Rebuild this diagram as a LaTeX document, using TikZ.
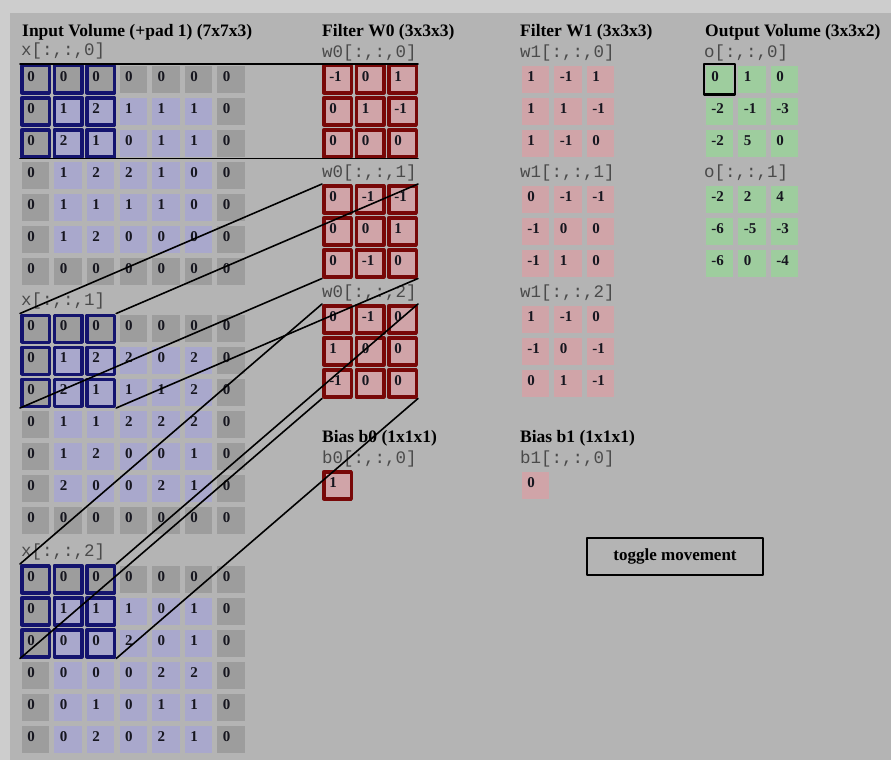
\documentclass[tikz,border=0pt]{standalone}
\usepackage{fontspec}
\setmainfont{Liberation Serif}
\setmonofont{Liberation Mono}
\usetikzlibrary{calc}

\definecolor{stripgray}{HTML}{CDCDCD}
\definecolor{panelgray}{HTML}{B4B4B4}
\definecolor{padgray}{HTML}{9D9D9D}
\definecolor{volblue}{HTML}{A9A8CC}
\definecolor{winblue}{HTML}{14146E}
\definecolor{filtpink}{HTML}{D0A4A8}
\definecolor{filtred}{HTML}{780808}
\definecolor{outgreen}{HTML}{9ECD9E}
\definecolor{labgray}{HTML}{4A4A4A}
\definecolor{celltext}{HTML}{16161F}

% one padded input slice: #1 depth, #2 top (px), #3 rows
\newcommand{\inslice}[3]{%
  \node[sublabel] (xlab#1) at (21,#2-8) {x[:,:,#1]};
  \foreach \row [count=\ri from 0] in {#3}{
    \foreach \val [count=\ci from 0] in \row{
      \pgfmathtruncatemacro\ispad{(\ri==0)||(\ri==6)||(\ci==0)||(\ci==6)}
      \pgfmathtruncatemacro\inwin{(\ri<3)&&(\ci<3)}
      \ifnum\ispad=1 \def\cfill{padgray}\else\def\cfill{volblue}\fi
      \ifnum\inwin=1 \def\cedge{winblue}\else\def\cedge{none}\fi
      \node[cell,fill=\cfill,draw=\cedge] (x#1-\ri-\ci) at (20+32.6*\ci,#2+32*\ri) {\val};
    }
  }
}

% one 3x3 slice: #1 name, #2 depth, #3 left, #4 top, #5 fill, #6 edge, #7 rows
\newcommand{\smallslice}[7]{%
  \node[sublabel] (#1lab#2) at (#3,#4-7) {#1[:,:,#2]};
  \foreach \row [count=\ri from 0] in {#7}{
    \foreach \val [count=\ci from 0] in \row{
      \node[cell,fill=#5,draw=#6] (#1-#2-\ri-\ci) at (#3+32.5*\ci,#4+32*\ri) {\val};
    }
  }
}

\begin{document}
\begin{tikzpicture}[x=1pt,y=-1pt,line cap=round,line join=round,
    cell/.style={anchor=north west,inner xsep=5.5pt,inner ysep=0pt,text width=16.5pt,
      text height=15.5pt,text depth=11.5pt,align=left,line width=3.5pt,text=celltext,
      font=\fontsize{15}{15}\selectfont\bfseries},
    heading/.style={anchor=base west,inner sep=0pt,font=\fontsize{17.5}{20}\selectfont\bfseries},
    sublabel/.style={anchor=base west,inner sep=0pt,text=labgray,font=\fontsize{17.5}{20}\selectfont\ttfamily},
    link/.style={black,line width=1.6pt}]
  \useasboundingbox (0,0) rectangle (891,760);
  \fill[stripgray] (0,0) rectangle (891,760);
  \fill[panelgray] (10,13) rectangle (891,760);

  % --- column headings ---
  \node[heading] (intitle) at (22,37) {Input Volume (+pad 1) (7x7x3)};
  \node[heading] (w0title) at (322,37) {Filter W0 (3x3x3)};
  \node[heading] (w1title) at (520,37) {Filter W1 (3x3x3)};
  \node[heading] (otitle) at (705,37) {Output Volume (3x3x2)};

  % --- input volume, three depth slices ---
  \inslice{0}{64}{{0,0,0,0,0,0,0},{0,1,2,1,1,1,0},{0,2,1,0,1,1,0},{0,1,2,2,1,0,0},
    {0,1,1,1,1,0,0},{0,1,2,0,0,0,0},{0,0,0,0,0,0,0}}
  \inslice{1}{313.5}{{0,0,0,0,0,0,0},{0,1,2,2,0,2,0},{0,2,1,1,1,2,0},{0,1,1,2,2,2,0},
    {0,1,2,0,0,1,0},{0,2,0,0,2,1,0},{0,0,0,0,0,0,0}}
  \inslice{2}{564}{{0,0,0,0,0,0,0},{0,1,1,1,0,1,0},{0,0,0,2,0,1,0},{0,0,0,0,2,2,0},
    {0,0,1,0,1,1,0},{0,0,2,0,2,1,0}}

  % --- filter W0 (active) ---
  \smallslice{w0}{0}{322}{64}{filtpink}{filtred}{{-1,0,1},{0,1,-1},{0,0,0}}
  \smallslice{w0}{1}{322}{184}{filtpink}{filtred}{{0,-1,-1},{0,0,1},{0,-1,0}}
  \smallslice{w0}{2}{322}{304}{filtpink}{filtred}{{0,-1,0},{1,0,0},{-1,0,0}}

  % --- filter W1 ---
  \smallslice{w1}{0}{520}{64}{filtpink}{none}{{1,-1,1},{1,1,-1},{1,-1,0}}
  \smallslice{w1}{1}{520}{184}{filtpink}{none}{{0,-1,-1},{-1,0,0},{-1,1,0}}
  \smallslice{w1}{2}{520}{304}{filtpink}{none}{{1,-1,0},{-1,0,-1},{0,1,-1}}

  % --- biases ---
  \node[heading] (b0title) at (322,442) {Bias b0 (1x1x1)};
  \node[heading] (b1title) at (520,442) {Bias b1 (1x1x1)};
  \smallslice{b0}{0}{322}{470}{filtpink}{filtred}{{1}}
  \smallslice{b1}{0}{520}{470}{filtpink}{none}{{0}}

  % --- output volume ---
  \smallslice{o}{0}{704}{64}{outgreen}{none}{{0,1,0},{-2,-1,-3},{-2,5,0}}
  \smallslice{o}{1}{704}{184}{outgreen}{none}{{-2,2,4},{-6,-5,-3},{-6,0,-4}}
  \draw[black,line width=2.8pt] (o-0-0-0.north west) rectangle (o-0-0-0.south east);

  % --- receptive field -> filter corners ---
  \foreach \d in {0,1,2}{
    \draw[link] (x\d-0-0.north west) -- (w0-\d-0-0.north west);
    \draw[link] (x\d-0-2.north east) -- (w0-\d-0-2.north east);
    \draw[link] (x\d-2-0.south west) -- (w0-\d-2-0.south west);
    \draw[link] (x\d-2-2.south east) -- (w0-\d-2-2.south east);
  }

  % --- button ---
  \node[draw=black,line width=2.5pt,minimum width=176pt,minimum height=37pt,inner sep=0pt,
        font=\fontsize{17}{20}\selectfont\bfseries] (toggle) at (675,556.5) {toggle movement};
\end{tikzpicture}
\end{document}
